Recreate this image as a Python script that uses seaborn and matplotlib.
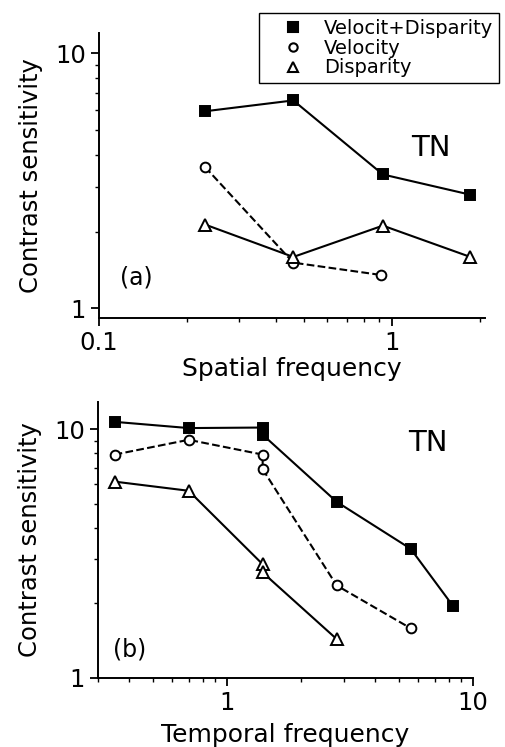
import matplotlib
matplotlib.use("Agg")
import matplotlib.pyplot as plt
import matplotlib.ticker as mticker
from matplotlib.lines import Line2D
import pandas as pd
import seaborn as sns

# (a) spatial frequency
sf_vd_x = [0.23, 0.46, 0.93, 1.85]
sf_vd_y = [5.93, 6.54, 3.35, 2.79]
sf_v_x = [0.23, 0.46, 0.92]
sf_v_y = [3.58, 1.51, 1.35]
sf_d_x = [0.23, 0.46, 0.93, 1.85]
sf_d_y = [2.13, 1.59, 2.11, 1.59]

# (b) temporal frequency
tf_vd_x = [0.35, 0.70, 1.40, 1.40, 2.80, 5.60, 8.30]
tf_vd_y = [10.7, 10.1, 10.15, 9.5, 5.1, 3.3, 1.95]
tf_v_x = [0.35, 0.70, 1.40, 1.40, 2.80, 5.60]
tf_v_y = [7.9, 9.06, 7.9, 6.9, 2.35, 1.58]
tf_d_x = [0.35, 0.70, 1.40, 1.40, 2.80]
tf_d_y = [6.15, 5.65, 2.86, 2.65, 1.43]

labels = ["Velocit+Disparity", "Velocity", "Disparity"]

sns.set_style("ticks")
plt.rcParams["font.family"] = ["DejaVu Sans"]
plt.rcParams["text.color"] = "black"
plt.rcParams["axes.labelcolor"] = "black"
plt.rcParams["xtick.color"] = "black"
plt.rcParams["ytick.color"] = "black"

fig = plt.figure(figsize=(5.06, 7.47), dpi=100)
ax_a = fig.add_axes([0.196, 0.574, 0.763, 0.3815])
ax_b = fig.add_axes([0.194, 0.0928, 0.740, 0.3695])

styles = [
    dict(marker="s", mfc="black", ls="-", ms=7.5),
    dict(marker="o", mfc="white", ls="--", ms=7),
    dict(marker="^", mfc="white", ls="-", ms=8.5),
]


def draw(ax, series):
    for (x, y), st in zip(series, styles):
        df = pd.DataFrame({"x": x, "y": y})
        sns.lineplot(data=df, x="x", y="y", ax=ax, sort=False, estimator=None,
                     color="black", lw=1.5, marker=st["marker"],
                     markerfacecolor=st["mfc"], markeredgecolor="black",
                     markeredgewidth=1.4, markersize=st["ms"],
                     linestyle=st["ls"], dashes=False)
        ax.lines[-1].set_linestyle(st["ls"])
    ax.set_xscale("log")
    ax.set_yscale("log")
    sns.despine(ax=ax)
    ax.set_yticks([1, 10])
    ax.set_yticklabels(["1", "10"])
    ax.yaxis.set_minor_locator(mticker.LogLocator(base=10, subs=range(2, 10)))
    ax.yaxis.set_minor_formatter(mticker.NullFormatter())
    ax.xaxis.set_minor_locator(mticker.LogLocator(base=10, subs=range(2, 10)))
    ax.xaxis.set_minor_formatter(mticker.NullFormatter())
    ax.tick_params(which="major", direction="out", length=6, width=1.3,
                   labelsize=17.5, color="black", labelcolor="black")
    ax.tick_params(which="minor", direction="out", length=3, width=1.0,
                   color="black")
    for s in ["left", "bottom"]:
        ax.spines[s].set_linewidth(1.4)
        ax.spines[s].set_color("black")
    ax.set_ylabel("Contrast sensitivity", fontsize=17.5, labelpad=9)


draw(ax_a, [(sf_vd_x, sf_vd_y), (sf_v_x, sf_v_y), (sf_d_x, sf_d_y)])
ax_a.set_xlim(0.1, 2.08)
ax_a.set_ylim(0.914, 12.0)
ax_a.set_xticks([0.1, 1])
ax_a.set_xticklabels(["0.1", "1"])
ax_a.set_xlabel("Spatial frequency", fontsize=18, labelpad=1)
ax_a.text(0.055, 0.12, "(a)", transform=ax_a.transAxes, fontsize=17)
ax_a.text(0.86, 0.596, "TN", transform=ax_a.transAxes, fontsize=21,
          ha="center", va="center")

draw(ax_b, [(tf_vd_x, tf_vd_y), (tf_v_x, tf_v_y), (tf_d_x, tf_d_y)])
ax_b.set_xlim(0.3, 10)
ax_b.set_ylim(1, 12.9)
ax_b.set_xticks([1, 10])
ax_b.set_xticklabels(["1", "10"])
ax_b.set_xlabel("Temporal frequency", fontsize=18, labelpad=6)
ax_b.text(0.04, 0.075, "(b)", transform=ax_b.transAxes, fontsize=17)
ax_b.text(0.88, 0.85, "TN", transform=ax_b.transAxes, fontsize=21,
          ha="center", va="center")

handles = [Line2D([], [], color="black", ls="none", marker=st["marker"],
                  mfc=st["mfc"], mec="black", mew=1.5, ms=st["ms"] - 1)
           for st in styles]
leg = fig.legend(handles, labels, loc="upper left",
                 bbox_to_anchor=(0.512, 0.983), fontsize=14, frameon=True,
                 fancybox=False, framealpha=1, edgecolor="black",
                 handlelength=2.9, handletextpad=0.15, labelspacing=0.05,
                 borderpad=0.3, borderaxespad=0)
leg.get_frame().set_linewidth(1.0)

fig.savefig("out.png", dpi=100)
